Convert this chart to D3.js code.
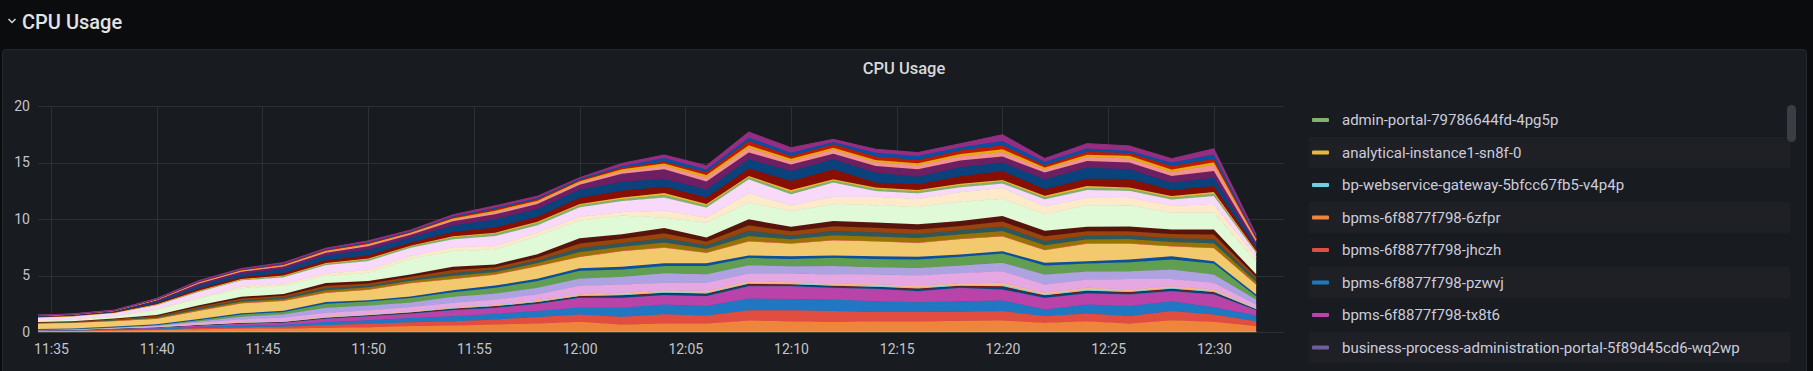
<!DOCTYPE html>
<html>
<head>
<meta charset="utf-8">
<script src="https://cdn.jsdelivr.net/npm/d3@7"></script>
<style>
  html, body { margin: 0; padding: 0; background: #0b0c0e; overflow: hidden; }
  svg { display: block; font-family: Roboto, "Noto Sans", sans-serif; }
</style>
</head>
<body>
<svg id="vis" width="1813" height="371"></svg>
<script>
// Tempos (cada 2 min)
const times = ["11:34","11:36","11:38","11:40","11:42","11:44","11:46","11:48","11:50","11:52",
  "11:54","11:56","11:58","12:00","12:02","12:04","12:06","12:08","12:10","12:12",
  "12:14","12:16","12:18","12:20","12:22","12:24","12:26","12:28","12:30","12:32"];

// Séries visíveis na legenda
const adminPortal = [.03,.03,.03,.03,.03,.03,.03,.03,.03,.03,.03,.03,.03,.03,.03,.03,.03,.03,.03,.03,.03,.03,.03,.03,.03,.03,.03,.03,.03,.03];
const analytical = [.01,.01,.01,.01,.01,.01,.01,.01,.01,.01,.01,.01,.01,.01,.01,.01,.01,.01,.01,.01,.01,.01,.01,.01,.01,.01,.01,.01,.01,.01];
const bpWebservice = [.01,.01,.01,.01,.01,.01,.01,.01,.01,.01,.01,.01,.01,.01,.01,.01,.01,.01,.01,.01,.01,.01,.01,.01,.01,.01,.01,.01,.01,.01];
const bpms6zfpr = [.05,.06,.1,.12,.2,.25,.27,.32,.38,.47,.53,.62,.71,.85,.62,.71,.71,.97,.91,.83,.91,.88,.94,.97,.77,.91,.71,1.0,.85,.47];
const bpmsJhczh = [.03,.03,.05,.06,.1,.13,.15,.24,.3,.35,.38,.44,.56,.65,.68,.8,.71,.91,.97,.97,.8,.83,.8,.83,.59,.68,.65,.8,.65,.44];
const bpmsPzwvj = [.03,.04,.06,.08,.12,.15,.18,.27,.32,.38,.44,.5,.53,.62,.8,.88,.83,1.03,1.0,1.03,.97,.88,.94,.94,.59,.8,.88,.88,.65,.5];
const bpmsTx8t6 = [.02,.03,.05,.1,.12,.17,.18,.3,.35,.38,.53,.53,.65,.86,.88,.83,.88,1.09,1.12,1.03,1.09,.97,1.18,.97,1.03,.97,1.03,.88,1.12,.47];
const bpaPortal = [.01,.01,.01,.01,.01,.01,.01,.01,.01,.01,.01,.01,.01,.01,.01,.01,.01,.01,.01,.01,.01,.01,.01,.01,.01,.01,.01,.01,.01,.01];

// Restantes séries (fora da parte visível da legenda)
const s08 = [.01,.01,.01,.02,.03,.04,.05,.06,.06,.07,.09,.1,.1,.11,.15,.14,.15,.15,.12,.13,.13,.17,.13,.2,.15,.17,.15,.15,.15,.07];
const s09 = [0,0,.01,.01,.02,.02,.02,.03,.03,.03,.04,.04,.04,.04,.06,.05,.06,.06,.05,.05,.05,.07,.05,.08,.06,.07,.06,.06,.06,.03];
const s10 = [0,0,.01,.01,.02,.03,.03,.03,.03,.04,.05,.05,.05,.05,.07,.07,.07,.07,.06,.06,.06,.08,.06,.1,.07,.08,.07,.07,.07,.03];
const s11 = [0,0,.01,.01,.02,.03,.04,.05,.05,.05,.08,.1,.1,.11,.15,.14,.15,.15,.11,.13,.13,.17,.13,.2,.15,.17,.15,.15,.15,.06];
const s13 = [0,.01,.02,.05,.15,.25,.3,.35,.35,.38,.38,.44,.53,.74,.74,.68,.74,.68,.77,.8,.88,.88,.94,1.03,.74,.74,.94,.65,.59,.3];
const s14 = [0,.01,.02,.05,.12,.22,.3,.44,.41,.41,.53,.53,.59,.65,.68,.83,.74,.74,.65,.74,.65,.68,.65,.74,.88,.71,.68,.83,.74,.44];
const s15 = [0,.01,.02,.05,.1,.2,.2,.35,.35,.38,.41,.5,.59,.68,.65,.65,.74,.65,.65,.74,.74,.74,.77,.83,.8,.71,.8,.88,.97,.3];
const s16 = [.05,.06,.06,.06,.08,.1,.1,.15,.12,.15,.18,.2,.2,.23,.24,.24,.24,.2,.24,.2,.24,.24,.2,.2,.24,.2,.24,.3,.2,.15];
const s17 = [.5,.5,.5,.5,.75,.9,.88,.83,.94,1.18,1.0,.97,1.12,1.0,1.39,1.39,.94,1.27,1.12,1.36,1.33,1.24,1.39,1.33,1.12,1.56,1.42,.88,1.18,.88];
const s18 = [.02,.02,.02,.02,.02,.02,.02,.02,.02,.02,.02,.02,.02,.02,.02,.02,.02,.02,.02,.02,.02,.02,.02,.02,.02,.02,.02,.02,.02,.02];
const s19 = [.03,.03,.05,.07,.11,.13,.14,.2,.18,.18,.26,.22,.25,.4,.36,.42,.33,.45,.36,.41,.4,.4,.38,.43,.41,.36,.36,.36,.4,.22];
const s20 = [.02,.03,.04,.07,.1,.12,.13,.19,.17,.17,.24,.2,.23,.37,.33,.39,.3,.45,.33,.38,.37,.37,.36,.4,.38,.33,.33,.33,.37,.2];
const s21 = [.02,.03,.05,.07,.11,.14,.15,.21,.18,.18,.26,.22,.26,.4,.37,.43,.33,.5,.37,.42,.4,.4,.39,.44,.42,.37,.37,.37,.4,.22];
const s22 = [.03,.03,.06,.09,.13,.16,.17,.23,.21,.21,.3,.24,.29,.45,.41,.47,.37,.52,.41,.47,.45,.45,.43,.5,.47,.41,.41,.41,.45,.24];
const s23 = [.1,.12,.15,.47,.6,.75,.74,.65,.74,1.39,1.39,1.33,1.62,1.61,1.62,.94,1.33,1.47,1.39,1.47,1.53,1.56,1.7,1.53,1.47,1.89,1.89,1.47,1.47,1.18];
const s24 = [.05,.05,.05,.06,.1,.15,.15,.2,.24,.24,.3,.3,.3,.3,.35,.59,.44,.83,.5,.68,.77,.71,.88,.97,.68,.68,.68,.65,.74,.35];
const s26 = [.25,.27,.3,.35,.5,.55,.59,.74,.8,.74,.74,.88,.65,.83,.97,1.18,.88,1.24,.97,1.24,.5,.47,.41,.38,.65,.68,.59,.53,.74,.38];
const s27 = [.02,.02,.02,.05,.08,.08,.1,.12,.14,.12,.17,.2,.2,.18,.18,.22,.18,.18,.22,.18,.18,.18,.18,.18,.18,.2,.18,.18,.2,.1];
const s28 = [.01,.01,.01,.02,.04,.04,.05,.06,.07,.06,.09,.1,.1,.12,.12,.16,.12,.12,.16,.12,.12,.12,.12,.12,.12,.15,.12,.12,.15,.06];
const s29 = [.03,.03,.04,.1,.17,.18,.22,.26,.3,.27,.37,.45,.44,.55,.6,.56,.59,.65,.8,.88,.44,.5,.68,.8,.59,.65,.74,.53,.53,.25];
const s30 = [.05,.05,.06,.16,.27,.28,.35,.4,.48,.42,.58,.72,.69,.7,.8,.68,.7,.83,.88,.88,.88,.68,.8,.74,.88,.97,.88,.65,.74,.3];
const s31 = [.03,.03,.04,.1,.17,.18,.22,.25,.3,.27,.37,.45,.44,.45,.7,.88,.7,.59,.59,.5,.59,.65,.59,.53,.59,.59,.59,.59,.59,.25];
const s32 = [.02,.02,.02,.05,.08,.09,.1,.12,.14,.12,.17,.22,.2,.2,.25,.3,.38,.44,.3,.38,.35,.35,.38,.41,.3,.38,.35,.35,.59,.2];
const s33 = [.01,.01,.01,.02,.04,.04,.05,.06,.07,.06,.09,.11,.1,.1,.15,.2,.2,.2,.2,.15,.18,.18,.2,.24,.15,.18,.24,.24,.2,.06];
const s34 = [.01,.01,.01,.03,.05,.05,.07,.08,.09,.08,.11,.14,.13,.13,.15,.15,.25,.38,.24,.3,.3,.3,.3,.35,.2,.27,.24,.3,.3,.12];
const s35 = [.01,.01,.01,.03,.04,.05,.05,.06,.07,.06,.09,.12,.1,.1,.15,.33,.25,.3,.3,.2,.35,.35,.3,.38,.3,.27,.2,.3,.38,.12];
const s36 = [.01,.01,.02,.04,.06,.06,.09,.09,.12,.1,.12,.17,.17,.1,.22,.28,.33,.5,.44,.24,.3,.3,.3,.56,.3,.44,.44,.35,.5,.16];

const seriesNames = [
  "admin-portal-79786644fd-4pg5p", "analytical-instance1-sn8f-0", "bp-webservice-gateway-5bfcc67fb5-v4p4p",
  "bpms-6f8877f798-6zfpr", "bpms-6f8877f798-jhczh", "bpms-6f8877f798-pzwvj", "bpms-6f8877f798-tx8t6",
  "business-process-administration-portal-5f89d45cd6-wq2wp",
  "s08","s09","s10","s11","s13","s14","s15","s16","s17","s18","s19","s20","s21","s22",
  "s23","s24","s26","s27","s28","s29","s30","s31","s32","s33","s34","s35","s36"];
const seriesValues = [adminPortal, analytical, bpWebservice, bpms6zfpr, bpmsJhczh, bpmsPzwvj, bpmsTx8t6, bpaPortal,
  s08, s09, s10, s11, s13, s14, s15, s16, s17, s18, s19, s20, s21, s22,
  s23, s24, s26, s27, s28, s29, s30, s31, s32, s33, s34, s35, s36];

// Cores (paleta Grafana)
const seriesColors = ["#7EB26D","#EAB839","#6ED0E0","#EF843C","#E24D42","#1F78C1","#BA43A9","#705DA0",
  "#0A437C","#890F02","#70DBED","#F9BA8F","#E5A8E2","#AEA2E0","#629E51","#0A50A1","#F2C96D","#EA6460",
  "#967302","#2F575E","#99440A","#58140C","#E0F9D7","#FCEACA","#F9D9F9","#7EB26D","#EAB839",
  "#890F02","#0A437C","#6D1F62","#F29191","#E5AC0E","#BF1B00","#0A50A1","#962D82"];

const yTicks = [0, 5, 10, 15, 20];
const legendCount = 8;

// ––––––––––––––––––––––––––––––––––––––––––––––––––––––––––

const parse = d3.timeParse("%Y-%m-%d %H:%M");
const t = (s) => parse("2021-06-01 " + s);

const rows = times.map((tm, i) => {
  const row = { time: t(tm) };
  seriesValues.forEach((vals, j) => (row[j] = vals[i]));
  return row;
});

const svg = d3.select("#vis");

// Cabeçalho da linha
svg.append("path").attr("d", "M8.5,19 L12,22.5 L15.5,19").attr("fill", "none")
  .attr("stroke", "#d8d9da").attr("stroke-width", 1.5);
svg.append("text").attr("x", 22).attr("y", 29).text("CPU Usage")
  .attr("font-size", 20).attr("font-weight", 500).attr("fill", "#e2e3e5");

// Painel
svg.append("rect").attr("x", 2.5).attr("y", 49.5).attr("width", 1804).attr("height", 340).attr("rx", 3)
  .attr("fill", "#181b1f").attr("stroke", "#26292e");
svg.append("text").attr("x", 904).attr("y", 68).attr("dy", "0.35em").attr("text-anchor", "middle")
  .text("CPU Usage").attr("font-size", 16.5).attr("font-weight", 500).attr("fill", "#d8d9da");

// Escalas
const x = d3.scaleTime()
  .domain([d3.timeSecond.offset(t("11:35"), -37), d3.timeSecond.offset(t("12:33"), 19)])
  .range([38, 1284]);
const y = d3.scaleLinear().domain([0, 20]).range([332, 106]);

// Grelha
const xTicks = x.ticks(d3.timeMinute.every(5));
const grid = svg.append("g").attr("stroke", "#2c2f34").attr("stroke-width", 1);
grid.selectAll(".h").data(yTicks).enter().append("line")
  .attr("x1", 38).attr("x2", 1284).attr("y1", (d) => Math.round(y(d)) + 0.5).attr("y2", (d) => Math.round(y(d)) + 0.5);
grid.selectAll(".v").data(xTicks).enter().append("line")
  .attr("y1", y(20)).attr("y2", y(0)).attr("x1", (d) => Math.round(x(d)) + 0.5).attr("x2", (d) => Math.round(x(d)) + 0.5);

// Eixos
const xAxis = svg.append("g").attr("transform", `translate(0,${y(0)})`)
  .call(d3.axisBottom(x).tickValues(xTicks).tickFormat(d3.timeFormat("%H:%M")).tickSize(0).tickPadding(12));
const yAxis = svg.append("g").attr("transform", "translate(38,0)")
  .call(d3.axisLeft(y).tickValues(yTicks).tickSize(0).tickPadding(8));
[xAxis, yAxis].forEach((a) => {
  a.select(".domain").remove();
  a.selectAll("text").attr("fill", "#c3c6cc").attr("font-size", 14).attr("font-family", "Roboto, sans-serif");
});

// Empilhamento
const keys = d3.range(seriesValues.length);
const stacked = d3.stack().keys(keys)(rows);

svg.append("clipPath").attr("id", "plot-clip").append("rect")
  .attr("x", 38).attr("y", 90).attr("width", 1246).attr("height", 243);

const area = d3.area().x((d) => x(d.data.time)).y0((d) => y(d[0])).y1((d) => y(d[1]));
const line = d3.line().x((d) => x(d.data.time)).y((d) => y(d[1]));

const plot = svg.append("g").attr("clip-path", "url(#plot-clip)");
stacked.forEach((layer, i) => {
  plot.append("path").attr("d", area(layer)).attr("fill", seriesColors[i]);
  plot.append("path").attr("d", line(layer)).attr("fill", "none")
    .attr("stroke", seriesColors[i]).attr("stroke-width", 1);
});

// Legenda
const legend = svg.append("g");
for (let i = 0; i < legendCount; i++) {
  const cy = 120 + i * 32.5;
  if (i % 2 === 1) {
    legend.append("rect").attr("x", 1309).attr("y", cy - 15.5).attr("width", 481).attr("height", 31)
      .attr("fill", "#1e2025");
  }
  legend.append("rect").attr("x", 1312).attr("y", cy - 2).attr("width", 17).attr("height", 4).attr("rx", 1)
    .attr("fill", seriesColors[i]);
  legend.append("text").attr("x", 1342).attr("y", cy).attr("dy", "0.35em").text(seriesNames[i])
    .attr("font-size", 15).attr("fill", "#ccccdc");
}
// Barra de scroll
legend.append("rect").attr("x", 1787).attr("y", 105).attr("width", 9).attr("height", 37).attr("rx", 4.5)
  .attr("fill", "#3b3e45");
</script>
</body>
</html>
